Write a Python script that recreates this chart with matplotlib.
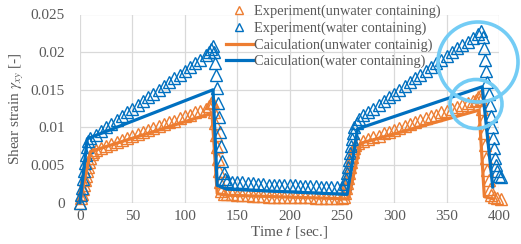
import matplotlib
matplotlib.use('Agg')
import matplotlib.pyplot as plt
from matplotlib.patches import Ellipse

plt.rcParams['font.family'] = ['Liberation Serif', 'DejaVu Serif']
plt.rcParams['mathtext.fontset'] = 'stix'

# experiment (unwater containing)
t_exp_u = [0, 1, 2, 3, 4, 5, 6, 7, 8, 9, 10, 11, 12,
           15, 20, 25, 30, 35, 40, 45, 50, 55, 60, 65, 70, 75, 80, 85, 90,
           95, 100, 105, 110, 115, 120, 123, 125, 126,
           127, 128, 129, 130, 131, 132, 133, 134, 135, 137,
           140, 145, 150, 155, 160, 165, 170, 175, 180, 185, 190, 195, 200,
           205, 210, 215, 220, 225, 230, 235, 240, 245, 250,
           252, 253, 254, 255, 256, 257, 258, 259, 260, 261, 262, 263, 265,
           270, 275, 280, 285, 290, 295, 300, 305, 310, 315, 320, 325, 330,
           335, 340, 345, 350, 355, 360, 365, 370, 375, 378, 380, 382,
           383, 384, 385, 386, 387, 388, 389, 390, 391, 392, 395, 398, 402]
y_exp_u = [0, .0006, .0012, .0018, .0024, .0030, .0036, .0042, .0048, .0054, .0060, .0065, .0068,
           .0070, .0072, .0075, .0078, .0080, .0083, .0086, .0088, .0091, .0094, .0096, .0099, .0102, .0104, .0107, .0109,
           .0112, .0115, .0117, .0120, .0122, .0125, .0129, .0132, .0134,
           .0132, .0120, .0106, .0090, .0074, .0058, .0042, .0028, .0016, .0012,
           .0011, .0011, .0010, .0010, .0010, .0009, .0009, .0009, .0008, .0008, .0008, .0008, .0007,
           .0007, .0007, .0007, .0007, .0006, .0006, .0006, .0006, .0006, .0006,
           .0008, .0013, .0019, .0026, .0033, .0040, .0047, .0054, .0061, .0067, .0072, .0076, .0079,
           .0082, .0084, .0087, .0089, .0092, .0094, .0097, .0099, .0102, .0105, .0107, .0110, .0112,
           .0115, .0117, .0120, .0122, .0125, .0127, .0130, .0132, .0135, .0137, .0140, .0142,
           .0138, .0124, .0108, .0092, .0076, .0060, .0044, .0030, .0018, .0010, .0007, .0006, .0005]

# experiment (water containing)
t_exp_w = [0, 1, 2, 3, 4, 5, 6, 7, 8,
           10, 15, 20, 25, 30, 35, 40, 45, 50, 55, 60, 65, 70, 75, 80, 85,
           90, 95, 100, 105, 110, 115, 120, 123, 125, 127,
           128, 129, 130, 131, 132, 133, 134, 135, 136, 137, 138,
           140, 145, 150, 155, 160, 165, 170, 175, 180, 185, 190, 195, 200,
           205, 210, 215, 220, 225, 230, 235, 240, 245, 250,
           253, 254, 255, 256, 257, 258, 259, 260, 261, 262, 264, 266,
           270, 275, 280, 285, 290, 295, 300, 305, 310, 315, 320, 325, 330,
           335, 340, 345, 350, 355, 360, 365, 370, 375, 380, 383,
           385, 386, 387, 388, 389, 390, 391, 392, 393, 394, 395, 396, 397, 398, 400, 402]
y_exp_w = [0, .0010, .0020, .0031, .0042, .0053, .0064, .0074, .0082,
           .0086, .0090, .0095, .0100, .0105, .0110, .0115, .0120, .0125, .0130, .0135, .0140, .0145, .0150, .0155, .0160,
           .0165, .0170, .0175, .0180, .0185, .0190, .0196, .0200, .0204, .0208,
           .0200, .0186, .0170, .0152, .0133, .0114, .0094, .0075, .0056, .0040, .0032,
           .0029, .0028, .0027, .0027, .0026, .0026, .0025, .0025, .0024, .0024, .0024, .0023, .0023,
           .0023, .0022, .0022, .0022, .0022, .0021, .0021, .0021, .0021, .0021,
           .0025, .0032, .0040, .0048, .0057, .0066, .0075, .0084, .0092, .0100, .0106, .0111,
           .0116, .0120, .0125, .0130, .0135, .0140, .0145, .0150, .0155, .0160, .0165, .0170, .0175,
           .0180, .0185, .0190, .0195, .0200, .0205, .0210, .0214, .0219, .0224, .0228,
           .0220, .0205, .0190, .0175, .0160, .0145, .0130, .0115, .0100, .0086, .0072, .0060, .0050, .0042, .0036, .0034]

# calculation
t_calc_u = [0, 10, 126, 131, 140, 256, 268, 381, 386, 395]
y_calc_u = [0, .0068, .0119, .0012, .0010, .0005, .0079, .0123, .0008, .0005]
t_calc_w = [0, 7, 127, 131, 140, 255, 265, 384, 394]
y_calc_w = [0, .0085, .0150, .0023, .0018, .0011, .0098, .0154, .0021]

labels = ['Experiment(unwater containing)', 'Experiment(water containing)',
          'Caiculation(unwater containig)', 'Caiculation(water containing)']

ORANGE = '#ED7D31'
BLUE = '#0070C0'
GRAY = '#595959'


def main():
    fig = plt.figure(figsize=(5.21, 2.44), dpi=100)
    ax = fig.add_axes([80 / 521, 1 - 202.7 / 244, 419 / 521, 188.2 / 244])

    ax.plot(t_exp_u, y_exp_u, ls='none', marker='^', ms=8, mfc='none',
            mec=ORANGE, mew=1.0, clip_on=False, label=labels[0], zorder=3)
    ax.plot(t_exp_w, y_exp_w, ls='none', marker='^', ms=8, mfc='none',
            mec=BLUE, mew=1.0, clip_on=False, label=labels[1], zorder=3)
    ax.plot(t_calc_u, y_calc_u, color=ORANGE, lw=2.3, label=labels[2],
            clip_on=False, zorder=4)
    ax.plot(t_calc_w, y_calc_w, color=BLUE, lw=2.3, label=labels[3],
            clip_on=False, zorder=4)

    ax.set_xlim(0, 400)
    ax.set_ylim(0, 0.025)
    ax.set_xticks(range(0, 401, 50))
    ax.set_yticks([0, 0.005, 0.01, 0.015, 0.02, 0.025])
    ax.set_yticklabels(['0', '0.005', '0.01', '0.015', '0.02', '0.025'])
    ax.grid(color='#D9D9D9', lw=0.9)
    ax.set_axisbelow(True)
    for s in ax.spines.values():
        s.set_visible(False)
    ax.axhline(0, color='#BFBFBF', lw=0.9, zorder=1)
    ax.tick_params(length=0, labelsize=11, colors=GRAY)
    ax.tick_params(axis='y', pad=11)
    ax.tick_params(axis='x', pad=5)

    ax.set_xlabel('Time $t$ [sec.]', fontsize=11, color=GRAY, labelpad=1)
    ax.set_ylabel(r'Shear strain $\gamma_{xy}$ [-]', fontsize=11, color=GRAY,
                  labelpad=3)

    leg = ax.legend(loc='upper left', bbox_to_anchor=(226 / 521, 1 - 5 / 244),
                    bbox_transform=fig.transFigure, frameon=False,
                    fontsize=10.4, handlelength=1.85, handletextpad=0.1,
                    borderpad=0, borderaxespad=0, labelspacing=0.22,
                    numpoints=1, markerscale=0.75)
    for txt in leg.get_texts():
        txt.set_color(GRAY)

    # highlight circles
    for (cx, cy, w, h) in [(478, 62, 80, 80), (476, 104, 52, 49)]:
        fig.add_artist(Ellipse((cx / 521, 1 - cy / 244), w / 521, h / 244,
                               transform=fig.transFigure, fill=False,
                               ec='#73CCF5', lw=2.6, zorder=10))

    plt.savefig('out.png', dpi=100)


if __name__ == '__main__':
    main()
